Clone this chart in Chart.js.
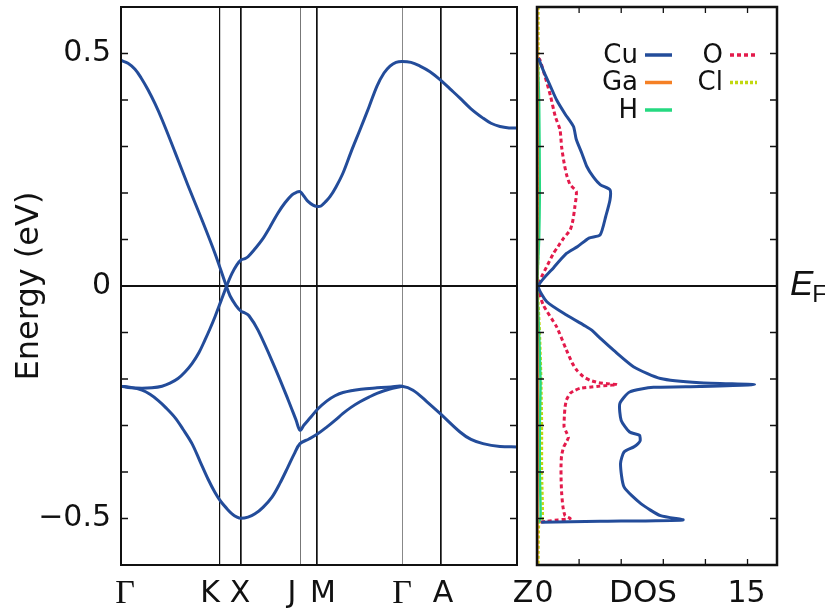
<!DOCTYPE html>
<html>
<head>
<meta charset="utf-8">
<script src="https://cdn.jsdelivr.net/npm/chart.js@4.4.1/dist/chart.umd.min.js"></script>
<style>
  html, body { margin: 0; padding: 0; background: #fff; }
  #wrap { position: relative; width: 825px; height: 608px; overflow: hidden; }
  #bands { position: absolute; left: 0; top: 0; }
  #dos { position: absolute; left: 527px; top: 0; }
</style>
</head>
<body>
<div id="wrap">
  <canvas id="bands" width="545" height="608"></canvas>
  <canvas id="dos" width="298" height="608"></canvas>
</div>
<script>
// ---- data ----
const kNames = ['Γ', 'K', 'X', 'J', 'M', 'Γ', 'A', 'Z'];
const kPos = [0, 99, 120, 179, 196, 281, 320, 396];

const energyTicks = [-0.6, -0.5, -0.4, -0.3, -0.2, -0.1, 0, 0.1, 0.2, 0.3, 0.4, 0.5, 0.6];
const energyLabels = [-0.5, 0, 0.5];
const fermiLevel = 0;

const dosTicks = [3, 6, 9, 12, 15];
const dosLabels = [0, 15];

// bands: [k, E]
const band1 = [[0,0.485],[7,0.479],[14,0.466],[20,0.448],[27,0.422],[34,0.392],[41,0.358],[54,0.288],[67,0.216],
  [81,0.142],[94,0.07],[104,0.008],[109,-0.021],[115,-0.042],[120,-0.054],[124,-0.058],[128,-0.064],[137,-0.095],
  [154,-0.176],[167,-0.244],[175,-0.288],[179,-0.31],[183,-0.299],[189,-0.284],[197,-0.264],[206,-0.247],
  [214,-0.236],[222,-0.229],[240,-0.222],[256,-0.219],[270,-0.217],[281,-0.2155],[292,-0.224],[306,-0.249],
  [319,-0.274],[339,-0.314],[350,-0.330],[362,-0.339],[379,-0.345],[396,-0.346]];
const band2 = [[0,-0.2155],[10,-0.218],[21,-0.224],[29,-0.233],[37,-0.246],[45,-0.262],[54,-0.283],[62,-0.308],
  [71,-0.339],[79,-0.377],[87,-0.415],[94,-0.444],[100,-0.464],[106,-0.479],[111,-0.49],[116,-0.497],[120,-0.4995],
  [127,-0.497],[134,-0.49],[142,-0.476],[151,-0.454],[159,-0.424],[167,-0.389],[173,-0.362],[179,-0.339],
  [188,-0.329],[196,-0.319],[206,-0.303],[214,-0.289],[222,-0.274],[230,-0.261],[239,-0.249],[248,-0.239],
  [256,-0.231],[268,-0.222],[281,-0.2155]];
const band3 = [[0,-0.2155],[10,-0.219],[21,-0.22],[31,-0.219],[41,-0.2155],[49,-0.209],[57,-0.199],[64,-0.185],
  [71,-0.167],[78,-0.143],[84,-0.116],[89,-0.092],[94,-0.066],[100,-0.032],[106,0.002],[111,0.027],[116,0.046],
  [120,0.056],[124,0.059],[127,0.063],[134,0.08],[141,0.099],[149,0.127],[157,0.157],[164,0.179],[171,0.196],
  [175,0.201],[179,0.203],[183,0.193],[187,0.182],[192,0.174],[196,0.171],[200,0.172],[204,0.18],[209,0.192],
  [215,0.213],[222,0.243],[230,0.288],[239,0.336],[248,0.385],[256,0.43],[263,0.458],[269,0.473],[275,0.481],
  [281,0.483],[290,0.481],[299,0.473],[309,0.461],[319,0.444],[329,0.424],[339,0.404],[350,0.381],[362,0.361],
  [370,0.35],[379,0.343],[388,0.34],[396,0.34]];

// projected DOS: [E, DOS]
const dosCu = [[0.49,0.1],[0.46,0.5],[0.43,0.95],[0.40,1.4],[0.37,2.0],[0.343,2.6],[0.315,2.8],[0.285,3.2],
  [0.257,3.55],[0.235,4.0],[0.218,4.5],[0.207,5.2],[0.185,5.2],[0.15,4.9],[0.11,4.5],[0.103,3.7],[0.085,2.9],
  [0.07,2.1],[0.04,1.2],[0.0,0.1],[-0.034,0.7],[-0.0625,2.1],[-0.088,3.55],[-0.095,3.9],[-0.115,4.6],
  [-0.138,5.45],[-0.174,6.9],[-0.199,8.8],[-0.208,11.6],[-0.212,15.5],[-0.216,11.6],[-0.218,8.3],[-0.228,6.6],
  [-0.253,5.9],[-0.289,6.0],[-0.314,6.6],[-0.321,7.3],[-0.333,7.35],[-0.339,7.2],[-0.346,6.9],[-0.357,6.2],
  [-0.382,5.95],[-0.432,6.2],[-0.468,7.4],[-0.494,8.8],[-0.503,10.4],[-0.506,4.5],[-0.508,0.3]];
const dosO = [[0.49,0.1],[0.487,0.2],[0.451,0.57],[0.41,0.95],[0.365,1.3],[0.336,1.64],[0.30,1.75],[0.27,1.9],
  [0.24,2.1],[0.218,2.36],[0.203,2.8],[0.171,2.7],[0.14,2.55],[0.12,2.36],[0.103,1.9],[0.085,1.5],[0.07,1.17],
  [0.045,0.75],[0.02,0.33],[0,0.05],[-0.041,0.45],[-0.088,1.4],[-0.138,2.1],[-0.165,2.5],[-0.181,2.83],
  [-0.195,3.3],[-0.203,3.8],[-0.208,4.4],[-0.21,5.0],[-0.212,5.7],[-0.214,5.0],[-0.216,4.26],[-0.22,3.07],
  [-0.226,2.6],[-0.231,2.36],[-0.245,2.1],[-0.26,2.0],[-0.28,1.95],[-0.303,1.93],[-0.315,2.1],[-0.325,2.24],
  [-0.335,2.1],[-0.346,1.9],[-0.365,1.75],[-0.389,1.71],[-0.42,1.72],[-0.447,1.76],[-0.475,1.85],[-0.494,2.0],
  [-0.5,2.36],[-0.503,1.5],[-0.506,0.7],[-0.508,0.2]];
const dosGa = [[0.6,0.03],[0.49,0.05],[0.2,0.06],[0,0.02],[-0.2,0.06],[-0.51,0.05],[-0.6,0.03]];
const dosH = [[0.49,0.05],[0.4,0.15],[0.2,0.2],[0.1,0.15],[0,0.02],[-0.1,0.15],[-0.21,0.25],[-0.3,0.2],
  [-0.4,0.2],[-0.5,0.25],[-0.51,0.05]];
const dosCl = [[0.6,0.1],[0.49,0.1],[0.3,0.12],[0.1,0.1],[0,0.05],[-0.1,0.2],[-0.2,0.3],[-0.3,0.35],
  [-0.4,0.35],[-0.5,0.4],[-0.51,0.15],[-0.6,0.1]];

// ---- styles ----
const FONT = '"DejaVu Sans", sans-serif';
const INK = '#111';
const BAND_BLUE = '#234c9a';
const kLineColor = ['rgba(0,0,0,0)', '#111', '#111', '#777', '#111', '#888', '#111', 'rgba(0,0,0,0)'];
const kLineWidth = [1, 1.2, 1.7, 1, 1.7, 1, 1.7, 1];
const kLabelNudge = [4, -10, -1, -8, 6, 0, 2, 6];

function pts(arr) { return arr.map(p => ({ x: p[0], y: p[1] })); }
function dosPts(arr) { return arr.map(p => ({ x: p[1], y: p[0] })); }

// frame, inward ticks and Fermi line, shared by both panels
const framePlugin = {
  id: 'frame',
  beforeDatasetsDraw(chart, args, opts) {
    const { ctx, chartArea: a, scales } = chart;
    const y0 = scales.y.getPixelForValue(fermiLevel);
    ctx.save();
    ctx.strokeStyle = INK;
    ctx.lineWidth = 2;
    ctx.beginPath();
    ctx.moveTo(a.left, y0);
    ctx.lineTo(a.right, y0);
    ctx.stroke();
    ctx.restore();
  },
  afterDraw(chart, args, opts) {
    const { ctx, chartArea: a, scales } = chart;
    ctx.save();
    ctx.strokeStyle = INK;
    ctx.lineWidth = 1.3;
    const len = 7;
    energyTicks.forEach(v => {
      const py = scales.y.getPixelForValue(v);
      ctx.beginPath();
      ctx.moveTo(a.left, py); ctx.lineTo(a.left + len, py);
      ctx.moveTo(a.right, py); ctx.lineTo(a.right - len, py);
      ctx.stroke();
    });
    if (opts.xTicks) {
      dosTicks.forEach(v => {
        const px = scales.x.getPixelForValue(v);
        ctx.beginPath();
        ctx.moveTo(px, a.top); ctx.lineTo(px, a.top + 6);
        ctx.moveTo(px, a.bottom); ctx.lineTo(px, a.bottom - 6);
        ctx.stroke();
      });
    }
    ctx.lineWidth = opts.border;
    ctx.strokeRect(a.left, a.top, a.right - a.left, a.bottom - a.top);
    ctx.restore();
  }
};

const bandLabelPlugin = {
  id: 'bandLabels',
  afterDraw(chart) {
    const { ctx, chartArea: a, scales: { x } } = chart;
    ctx.save();
    ctx.fillStyle = INK;
    ctx.textAlign = 'center';
    ctx.textBaseline = 'middle';
    kNames.forEach((name, i) => {
      const px = x.getPixelForValue(kPos[i]) + kLabelNudge[i];
      ctx.font = name === 'Γ' ? '34px "Liberation Serif", serif' : '30px ' + FONT;
      ctx.fillText(name, px, a.bottom + 29);
    });
    ctx.restore();
  }
};

const dosDecorPlugin = {
  id: 'dosDecor',
  afterDraw(chart) {
    const { ctx, chartArea: a, scales: { x, y } } = chart;
    ctx.save();
    ctx.fillStyle = INK;
    ctx.textBaseline = 'middle';
    ctx.textAlign = 'center';
    ctx.font = '30px ' + FONT;
    ctx.fillText(String(dosLabels[0]), x.getPixelForValue(dosLabels[0]) + 7, a.bottom + 29);
    ctx.fillText(String(dosLabels[1]), x.getPixelForValue(dosLabels[1]) - 1, a.bottom + 29);
    ctx.font = '31px ' + FONT;
    ctx.fillText('DOS', a.left + 106, a.bottom + 29);

    // E_F label
    const y0 = y.getPixelForValue(fermiLevel);
    ctx.textAlign = 'left';
    ctx.textBaseline = 'alphabetic';
    ctx.font = 'italic 35px "Liberation Sans", sans-serif';
    const ex = a.right + 13;
    ctx.fillText('E', ex, y0 + 9);
    const ew = ctx.measureText('E').width;
    ctx.font = '24px "Liberation Sans", sans-serif';
    ctx.fillText('F', ex + ew - 1, y0 + 16);

    // legend: two columns, text right-aligned before the line sample
    ctx.font = '26px ' + FONT;
    ctx.textAlign = 'right';
    ctx.textBaseline = 'middle';
    chart.data.datasets.forEach((ds, i) => {
      const col = i < 3 ? 0 : 1;
      const row = i < 3 ? i : i - 3;
      const tx = a.left + (col === 0 ? 101 : 186);
      const ty = a.top + 48 + row * 27.5;
      ctx.fillStyle = INK;
      ctx.fillText(ds.label, tx, ty + 1);
      ctx.strokeStyle = ds.borderColor;
      ctx.lineWidth = 3.5;
      ctx.setLineDash(ds.borderDash || []);
      ctx.beginPath();
      ctx.moveTo(tx + 7, ty);
      ctx.lineTo(tx + 34, ty);
      ctx.stroke();
      ctx.setLineDash([]);
    });
    ctx.restore();
  }
};

function bandSet(arr) {
  return {
    data: pts(arr), showLine: true, pointRadius: 0, borderColor: BAND_BLUE,
    borderWidth: 3, tension: 0.35, fill: false
  };
}

new Chart(document.getElementById('bands'), {
  type: 'scatter',
  data: { datasets: [bandSet(band1), bandSet(band2), bandSet(band3)] },
  options: {
    responsive: false,
    animation: false,
    events: [],
    layout: { padding: { left: 0, right: 28, top: 7, bottom: 0 } },
    plugins: { legend: { display: false }, tooltip: { enabled: false }, frame: { border: 2 } },
    scales: {
      x: {
        type: 'linear', min: kPos[0], max: kPos[kPos.length - 1],
        afterBuildTicks: s => { s.ticks = kPos.map(v => ({ value: v })); },
        afterFit: s => { s.height = 43; s.paddingLeft = 0; s.paddingRight = 0; },
        ticks: { display: false, autoSkip: false },
        border: { display: false },
        grid: {
          drawTicks: false,
          color: c => kLineColor[c.index] || 'rgba(0,0,0,0)',
          lineWidth: c => kLineWidth[c.index] || 1
        }
      },
      y: {
        type: 'linear', min: -0.6, max: 0.6,
        afterBuildTicks: s => { s.ticks = energyTicks.map(v => ({ value: v })); },
        afterFit: s => { s.width = 121; s.paddingTop = 0; s.paddingBottom = 0; },
        border: { display: false },
        grid: { display: false, drawTicks: false },
        ticks: {
          autoSkip: false, padding: 10, color: INK,
          font: { family: FONT, size: 30 },
          callback: v => energyLabels.includes(v) ? (v < 0 ? '\u2212' : '') + Math.abs(v) : ''
        },
        title: {
          display: true, text: 'Energy (eV)', color: INK,
          font: { family: FONT, size: 32 }, padding: { top: 10, bottom: 0 }
        }
      }
    }
  },
  plugins: [framePlugin, bandLabelPlugin]
});

function dosSet(label, arr, color, width, dash) {
  return {
    label: label, data: dosPts(arr), showLine: true, pointRadius: 0, borderColor: color,
    borderWidth: width, borderDash: dash, tension: 0.2, fill: false
  };
}

new Chart(document.getElementById('dos'), {
  type: 'scatter',
  data: {
    datasets: [
      dosSet('Cu', dosCu, '#234c9a', 3, []),
      dosSet('Ga', dosGa, '#f58025', 2, []),
      dosSet('H', dosH, '#25d980', 2.5, []),
      dosSet('O', dosO, '#e31a4b', 3, [4, 3]),
      dosSet('Cl', dosCl, '#c2d80f', 2.5, [3, 2])
    ]
  },
  options: {
    responsive: false,
    animation: false,
    events: [],
    layout: { padding: { left: 10, right: 48, top: 7, bottom: 0 } },
    plugins: { legend: { display: false }, tooltip: { enabled: false }, frame: { border: 2.5, xTicks: true } },
    scales: {
      x: {
        type: 'linear', min: 0, max: 17.1,
        afterFit: s => { s.height = 43; },
        ticks: { display: false },
        border: { display: false },
        grid: { display: false, drawTicks: false }
      },
      y: { type: 'linear', min: -0.6, max: 0.6, display: false }
    }
  },
  plugins: [framePlugin, dosDecorPlugin]
});
</script>
</body>
</html>
